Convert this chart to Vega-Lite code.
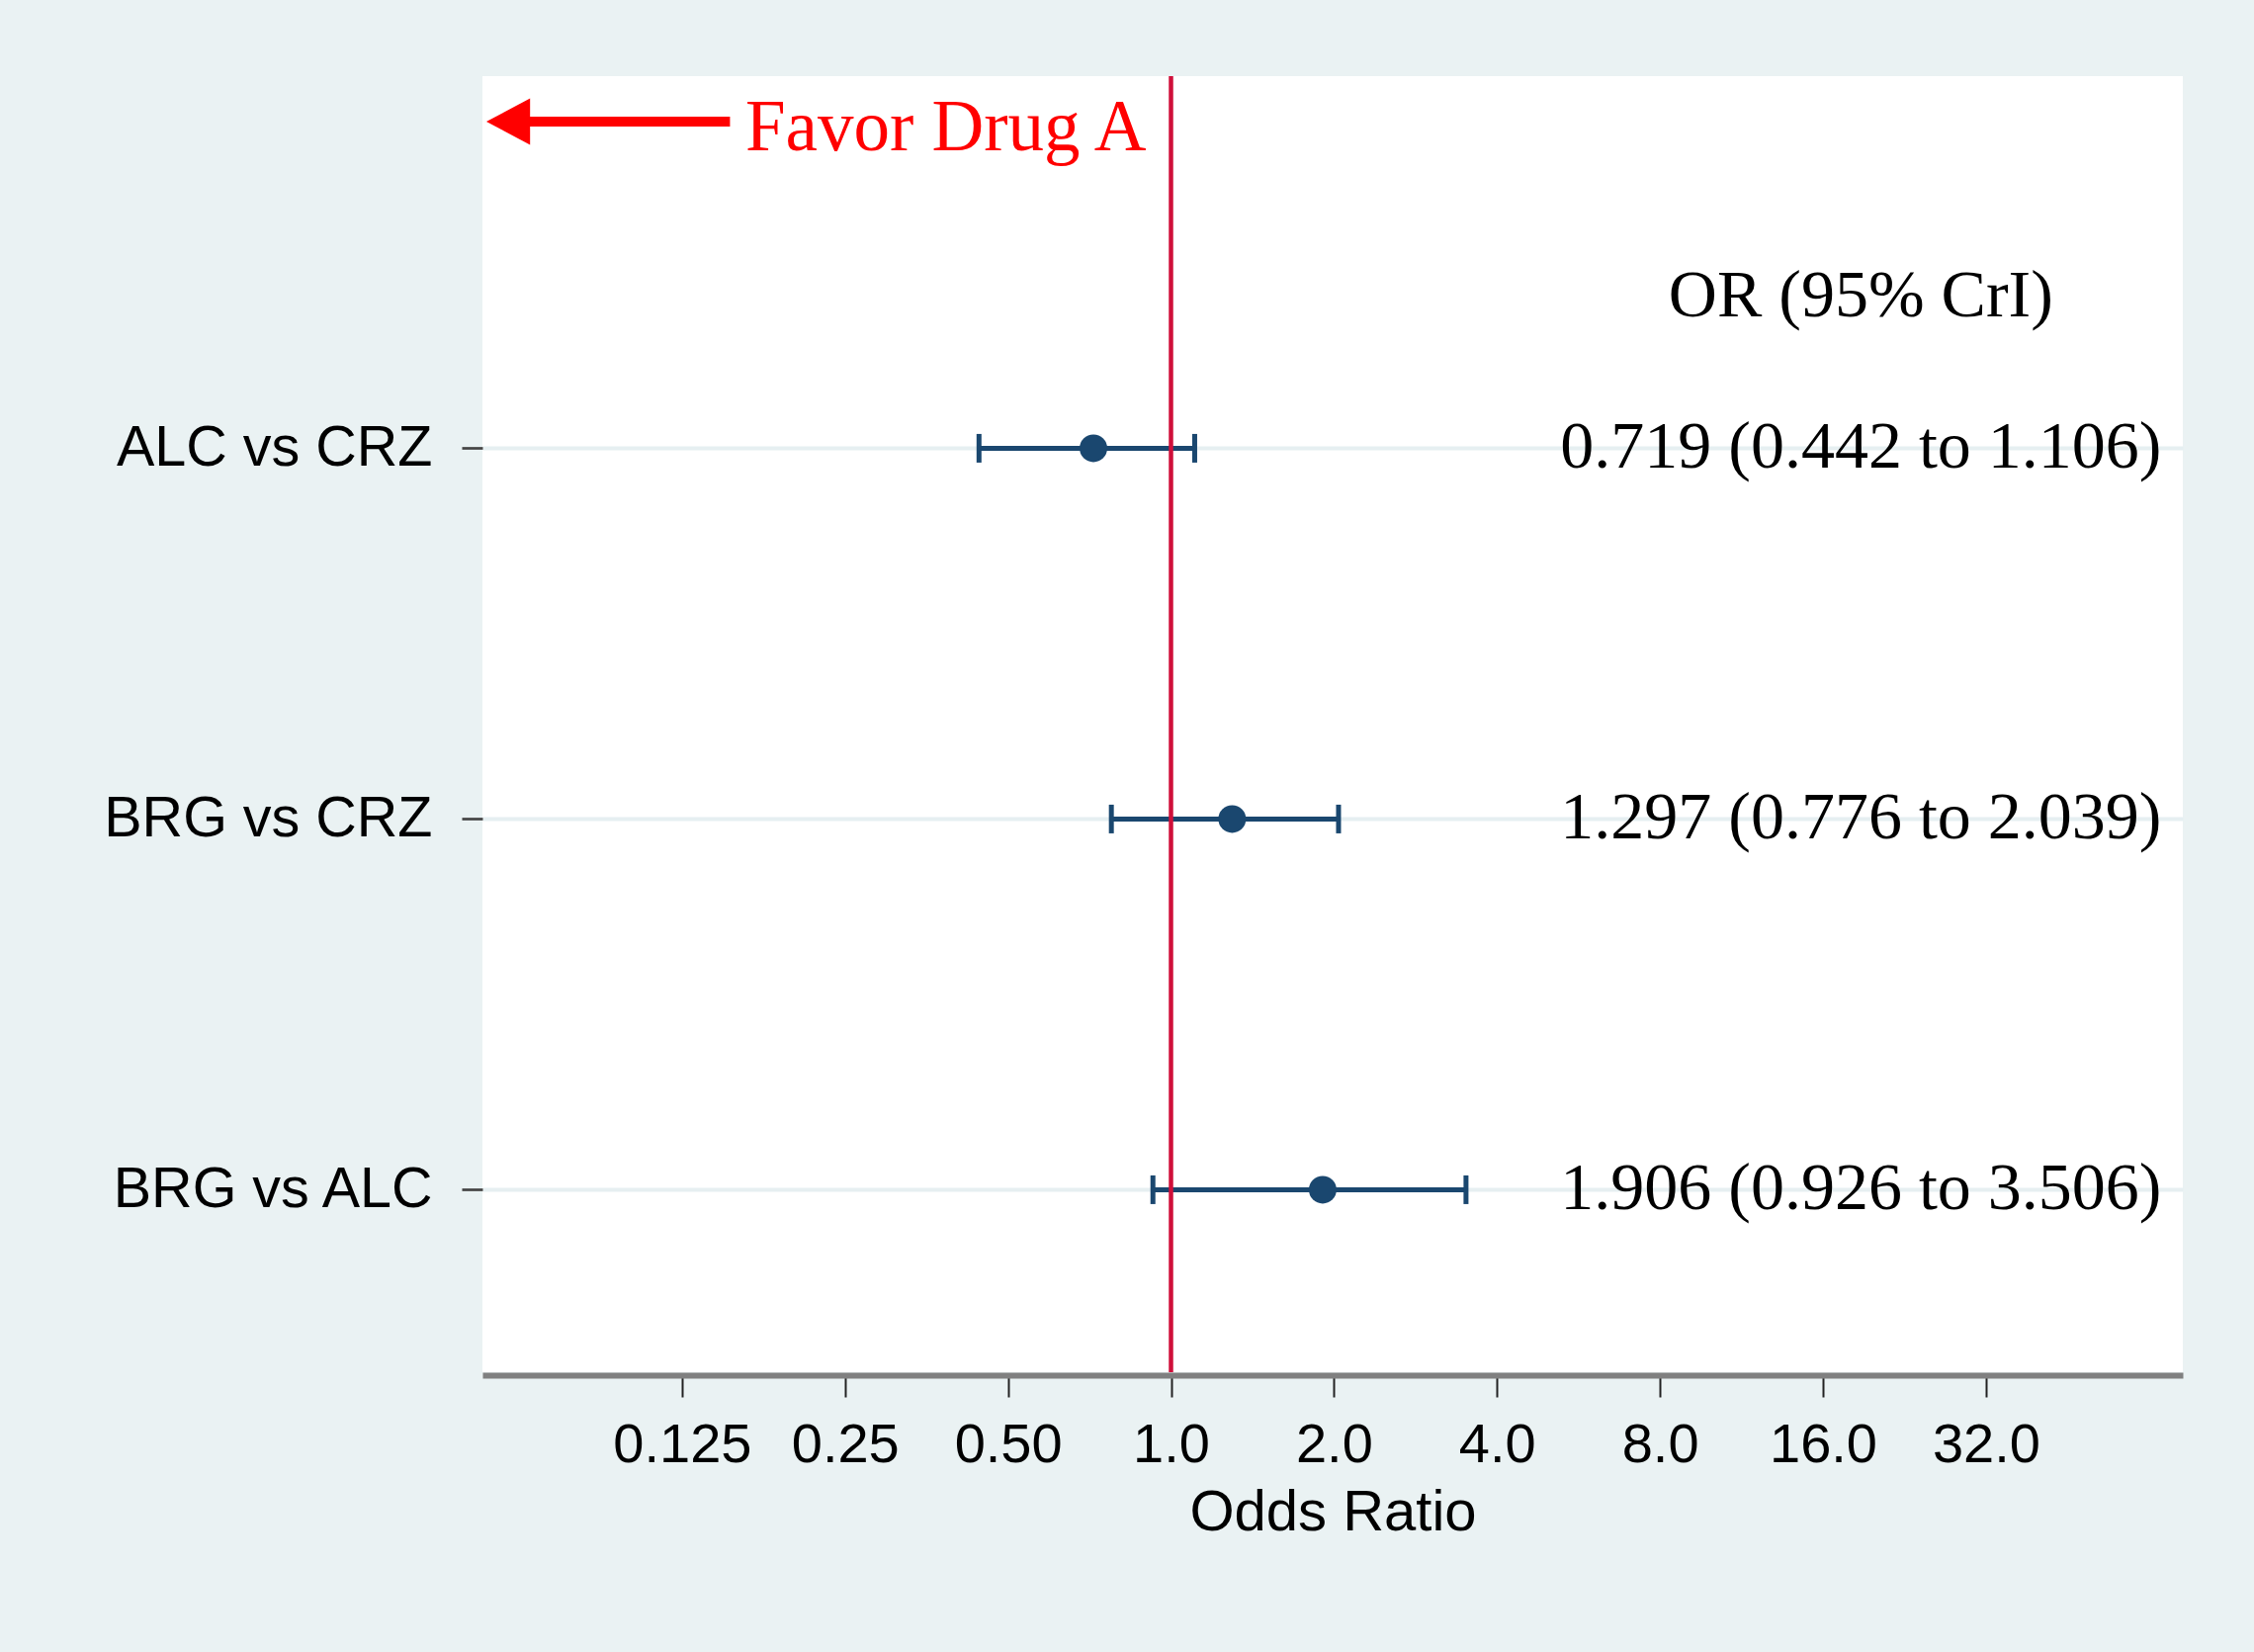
{
  "$schema": "https://vega.github.io/schema/vega-lite/v6.json",
  "width": 1720,
  "height": 1311,
  "autosize": {"type": "none"},
  "padding": {"left": 488, "top": 77, "right": 72, "bottom": 283},
  "background": "#eaf2f3",
  "config": {
    "view": {"fill": "white", "stroke": null},
    "axis": {"labelFont": "Liberation Sans", "titleFont": "Liberation Sans", "labelColor": "black", "titleColor": "black"}
  },
  "data": {
    "values": [
      {"comparison": "ALC vs CRZ", "or": 0.719, "lo": 0.442, "hi": 1.106, "ci": "0.719 (0.442 to 1.106)"},
      {"comparison": "BRG vs CRZ", "or": 1.297, "lo": 0.776, "hi": 2.039, "ci": "1.297 (0.776 to 2.039)"},
      {"comparison": "BRG vs ALC", "or": 1.906, "lo": 0.926, "hi": 3.506, "ci": "1.906 (0.926 to 3.506)"}
    ]
  },
  "layer": [
    {
      "layer": [
        {
          "mark": {"type": "rule", "color": "#1a476f", "strokeWidth": 5},
          "encoding": {
            "x": {
              "field": "lo", "type": "quantitative",
              "scale": {"type": "log", "base": 2, "domain": [0.0535, 73.9], "nice": false, "zero": false},
              "axis": {
                "title": "Odds Ratio", "titleFontSize": 58, "titleFontWeight": "normal", "titlePadding": 12,
                "values": [0.125, 0.25, 0.5, 1, 2, 4, 8, 16, 32],
                "labelExpr": "datum.value < 1 ? (datum.value == 0.5 ? '0.50' : toString(datum.value)) : format(datum.value, '.1f')",
                "labelFontSize": 56, "labelPadding": 21, "labelFlush": false, "labelOverlap": false,
                "grid": false, "domainColor": "#808080", "domainWidth": 6, "offset": 3,
                "tickColor": "#222222", "tickWidth": 2, "tickSize": 22
              }
            },
            "x2": {"field": "hi"},
            "y": {
              "field": "comparison", "type": "nominal", "title": null,
              "scale": {"type": "point", "domain": ["ALC vs CRZ", "BRG vs CRZ", "BRG vs ALC"], "padding": 0.748, "align": 0.671},
              "axis": {
                "title": null, "domain": false, "grid": true, "gridColor": "#e6eff1", "gridWidth": 4,
                "labelFontSize": 57.5, "labelPadding": 30, "labelLimit": 1000,
                "tickColor": "#444444", "tickWidth": 2.7, "tickSize": 21
              }
            }
          }
        },
        {
          "mark": {"type": "tick", "color": "#1a476f", "size": 29, "thickness": 5, "opacity": 1},
          "encoding": {
            "x": {"field": "lo", "type": "quantitative", "scale": {"type": "log", "base": 2, "domain": [0.0535, 73.9], "nice": false, "zero": false}},
            "y": {"field": "comparison", "type": "nominal", "title": null, "scale": {"type": "point", "domain": ["ALC vs CRZ", "BRG vs CRZ", "BRG vs ALC"], "padding": 0.748, "align": 0.671}}
          }
        },
        {
          "mark": {"type": "tick", "color": "#1a476f", "size": 29, "thickness": 5, "opacity": 1},
          "encoding": {
            "x": {"field": "hi", "type": "quantitative", "scale": {"type": "log", "base": 2, "domain": [0.0535, 73.9], "nice": false, "zero": false}},
            "y": {"field": "comparison", "type": "nominal", "title": null, "scale": {"type": "point", "domain": ["ALC vs CRZ", "BRG vs CRZ", "BRG vs ALC"], "padding": 0.748, "align": 0.671}}
          }
        },
        {
          "mark": {"type": "point", "shape": "circle", "filled": true, "color": "#1a476f", "size": 780, "opacity": 1},
          "encoding": {
            "x": {"field": "or", "type": "quantitative", "scale": {"type": "log", "base": 2, "domain": [0.0535, 73.9], "nice": false, "zero": false}},
            "y": {"field": "comparison", "type": "nominal", "title": null, "scale": {"type": "point", "domain": ["ALC vs CRZ", "BRG vs CRZ", "BRG vs ALC"], "padding": 0.748, "align": 0.671}}
          }
        },
        {
          "mark": {"type": "text", "font": "Liberation Serif", "fontSize": 68, "align": "center", "baseline": "middle", "color": "black"},
          "encoding": {
            "x": {"datum": 18.8, "type": "quantitative", "scale": {"type": "log", "base": 2, "domain": [0.0535, 73.9], "nice": false, "zero": false}},
            "y": {"field": "comparison", "type": "nominal", "title": null, "scale": {"type": "point", "domain": ["ALC vs CRZ", "BRG vs CRZ", "BRG vs ALC"], "padding": 0.748, "align": 0.671}},
            "text": {"field": "ci"}
          }
        }
      ]
    },
    {
      "data": {"values": [{}]},
      "layer": [
        {
          "mark": {"type": "rule", "color": "#d0103a", "strokeWidth": 4.5},
          "encoding": {
            "x": {"datum": 1, "type": "quantitative", "scale": {"type": "log", "base": 2, "domain": [0.0535, 73.9], "nice": false, "zero": false}}
          }
        },
        {
          "mark": {"type": "rule", "color": "#ff0000", "strokeWidth": 10},
          "encoding": {
            "x": {"datum": 0.063, "type": "quantitative", "scale": {"type": "log", "base": 2, "domain": [0.0535, 73.9], "nice": false, "zero": false}},
            "x2": {"datum": 0.1533},
            "y": {"datum": 0.1228, "type": "quantitative", "scale": {"domain": [0, 3.5], "reverse": true, "nice": false, "zero": false}, "axis": null}
          }
        },
        {
          "mark": {"type": "point", "shape": "M -0.94 0 L 0.94 -1 L 0.94 1 Z", "filled": true, "color": "#ff0000", "size": 2209, "opacity": 1},
          "encoding": {
            "x": {"datum": 0.0597, "type": "quantitative", "scale": {"type": "log", "base": 2, "domain": [0.0535, 73.9], "nice": false, "zero": false}},
            "y": {"datum": 0.1228, "type": "quantitative", "scale": {"domain": [0, 3.5], "reverse": true, "nice": false, "zero": false}, "axis": null}
          }
        },
        {
          "mark": {"type": "text", "text": "Favor Drug A", "font": "Liberation Serif", "fontSize": 73, "align": "right", "baseline": "alphabetic", "color": "#ff0000"},
          "encoding": {
            "x": {"datum": 0.9, "type": "quantitative", "scale": {"type": "log", "base": 2, "domain": [0.0535, 73.9], "nice": false, "zero": false}},
            "y": {"datum": 0.2, "type": "quantitative", "scale": {"domain": [0, 3.5], "reverse": true, "nice": false, "zero": false}, "axis": null}
          }
        },
        {
          "mark": {"type": "text", "text": "OR (95% CrI)", "font": "Liberation Serif", "fontSize": 68, "align": "center", "baseline": "alphabetic", "color": "black"},
          "encoding": {
            "x": {"datum": 18.8, "type": "quantitative", "scale": {"type": "log", "base": 2, "domain": [0.0535, 73.9], "nice": false, "zero": false}},
            "y": {"datum": 0.648, "type": "quantitative", "scale": {"domain": [0, 3.5], "reverse": true, "nice": false, "zero": false}, "axis": null}
          }
        }
      ]
    }
  ],
  "resolve": {"scale": {"y": "independent"}}
}
